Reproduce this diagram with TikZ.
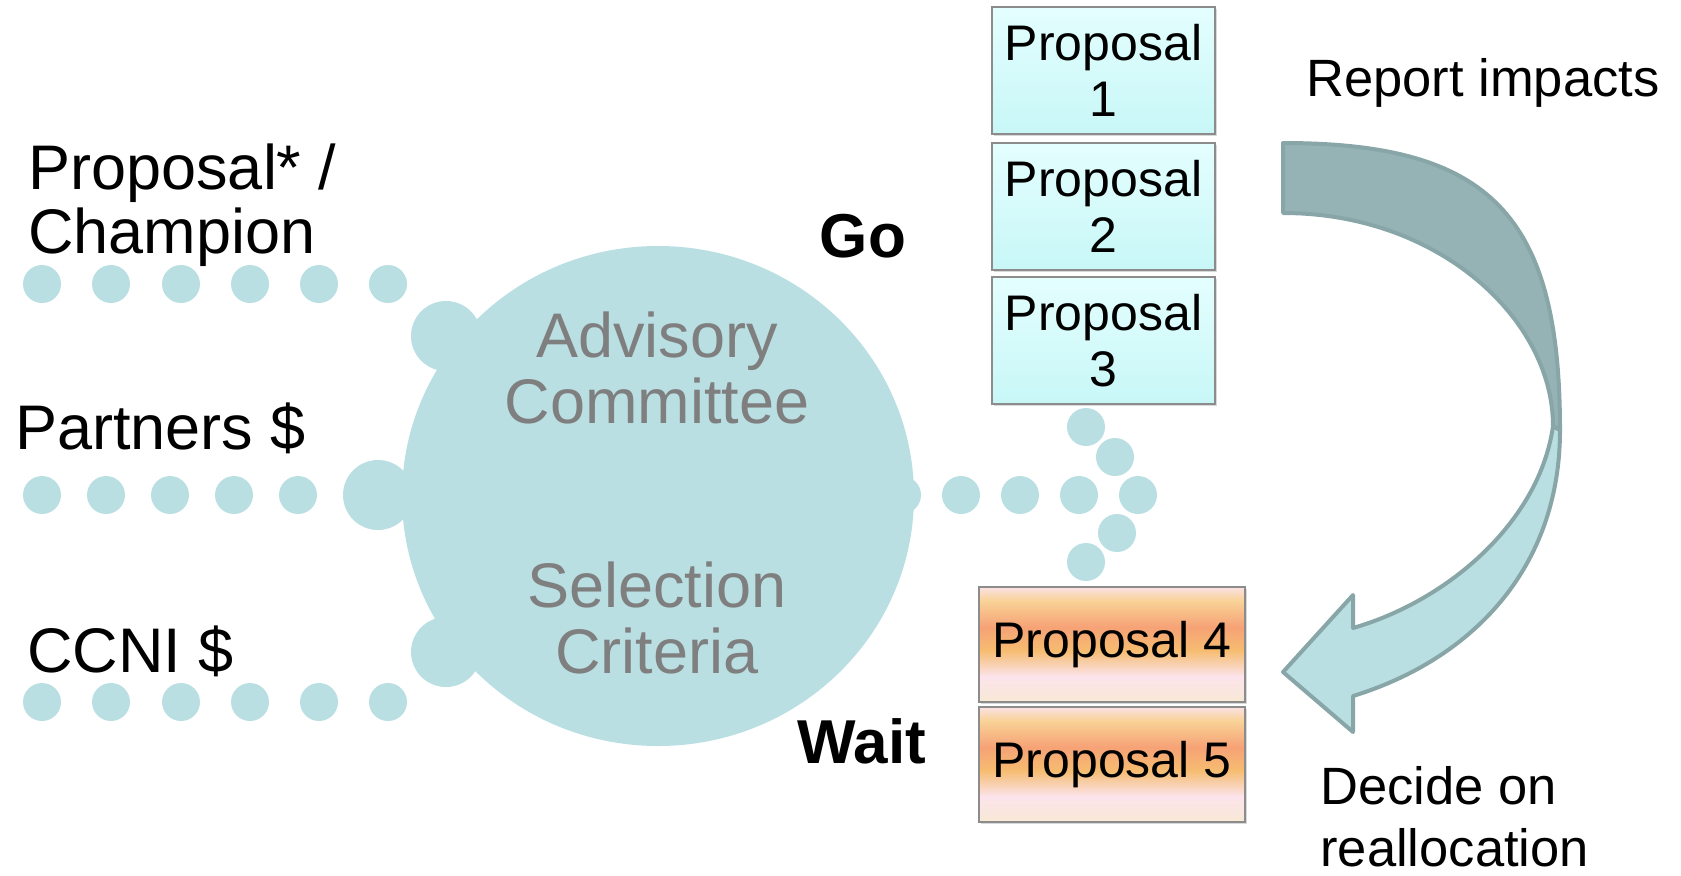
\documentclass[tikz,border=0pt]{standalone}
\usepackage{fontspec}
\setmainfont{Liberation Sans}
\usetikzlibrary{shadows}

\definecolor{dotblue}{RGB}{185,223,227}
\definecolor{backteal}{RGB}{149,178,180}
\definecolor{arrowline}{RGB}{136,166,168}
\definecolor{labelgray}{RGB}{127,127,127}
\definecolor{boxline}{RGB}{140,140,140}
\definecolor{coolA}{RGB}{228,254,254}
\definecolor{coolB}{RGB}{200,247,247}
\definecolor{warmA}{RGB}{250,226,228}
\definecolor{warmB}{RGB}{249,210,150}
\definecolor{warmC}{RGB}{246,162,118}
\definecolor{warmD}{RGB}{246,188,112}
\definecolor{warmE}{RGB}{251,228,236}
\definecolor{warmF}{RGB}{249,232,212}

\pgfdeclareverticalshading{warmband}{100bp}{color(0bp)=(warmF); color(25bp)=(warmF);
  color(36bp)=(warmE); color(47.5bp)=(warmD); color(57.5bp)=(warmC);
  color(69bp)=(warmB); color(75bp)=(warmA); color(100bp)=(warmA)}

\begin{document}
\begin{tikzpicture}[
    x=0.5pt, y=-0.5pt,
    dot/.style={fill=dotblue},
    inlabel/.style={inner sep=0pt, align=left, font=\fontsize{31.5}{32}\selectfont},
    circlabel/.style={inner sep=0pt, align=center, text=labelgray, font=\fontsize{31.5}{33}\selectfont},
    decision/.style={inner sep=0pt, font=\fontsize{31}{33}\selectfont\bfseries},
    note/.style={inner sep=0pt, align=left, font=\fontsize{26.25}{31}\selectfont},
    propbox/.style={rectangle, draw=boxline, line width=0.7pt, inner sep=0pt, align=center,
        font=\fontsize{25}{28}\selectfont,
        drop shadow={shadow xshift=1pt, shadow yshift=-1.2pt, opacity=0.3}},
    gobox/.style={propbox, top color=coolA, bottom color=coolB, minimum width=111.5pt, minimum height=63.5pt},
    waitbox/.style={propbox, shading=warmband, minimum width=133pt, minimum height=57.5pt},
    turnarrow/.style={draw=arrowline, line width=2pt, line join=round}
]
\useasboundingbox (0,0) rectangle (1681,875);

% Committee circle with its three inlets
\fill[dotblue] (658,496) ellipse [x radius=256, y radius=250];
\fill[dotblue] (446,336) circle[radius=35];
\fill[dotblue] (378,495) circle[radius=35];
\fill[dotblue] (446,652) circle[radius=35];

% Incoming dotted lines
\foreach \x in {42,111,181,250,319,388} {
    \fill[dot] (\x,284) circle[radius=19];
    \fill[dot] (\x,702) circle[radius=19];
}
\foreach \x in {42,106,170,234,298}
    \fill[dot] (\x,495) circle[radius=19];

% Outgoing dotted split
\foreach \x in {902,961,1020,1079,1138}
    \fill[dot] (\x,495) circle[radius=19];
\foreach \p in {(1086,427),(1115,457),(1117,533),(1086,562)}
    \fill[dot] \p circle[radius=19];

% Inputs (base = last line)
\node[inlabel, anchor=base west] (champion) at (28,253) {Proposal* /\\Champion};
\node[inlabel, anchor=base west] (partners) at (15,449) {Partners \$};
\node[inlabel, anchor=base west] (ccni) at (27,672) {CCNI \$};

% Inside the circle
\node[circlabel, anchor=base] (advisory) at (657,423) {Advisory\\Committee};
\node[circlabel, anchor=base] (criteria) at (657,673) {Selection\\Criteria};

% Decisions
\node[decision, anchor=base] (go) at (863,257) {Go};
\node[decision, anchor=base] (wait) at (862,763) {Wait};

% Funded proposals
\node[gobox] (prop1) at (1103.5,70.5) {Proposal\\1};
\node[gobox] (prop2) at (1103.5,206.5) {Proposal\\2};
\node[gobox] (prop3) at (1103.5,340.5) {Proposal\\3};

% Waiting proposals
\node[waitbox] (prop4) at (1112,644.5) {Proposal 4};
\node[waitbox] (prop5) at (1112,764.5) {Proposal 5};

% Feedback arrow
\filldraw[turnarrow, fill=dotblue] (1560,430) .. controls (1560,570) and (1470,660) .. (1353,696)
    -- (1353,732) -- (1283,672) -- (1353,595) -- (1353,628)
    .. controls (1450,600) and (1540,520) .. (1553,426) -- cycle;
\filldraw[turnarrow, fill=backteal] (1283,143) .. controls (1490,143) and (1560,215) .. (1560,430)
    -- (1553,426) .. controls (1553,320) and (1440,213) .. (1283,213) -- cycle;

\node[note, anchor=base west] (report) at (1306,96) {Report impacts};
\node[note, anchor=base west] (decide) at (1320,866) {Decide on\\reallocation};

\end{tikzpicture}
\end{document}
